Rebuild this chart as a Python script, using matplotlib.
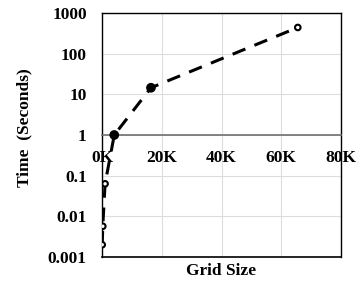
import matplotlib
matplotlib.use("Agg")
import matplotlib.pyplot as plt
from matplotlib.ticker import FixedLocator, NullLocator

# grid sizes (cells) and run time in seconds
grid_size = [64, 256, 1024, 4096, 16384, 65536]
time_sec = [0.002, 0.0057, 0.063, 1.0, 14.5, 440]
filled = [False, False, False, True, True, False]

x_ticks = [0, 20000, 40000, 60000, 80000]
x_labels = ["0K", "20K", "40K", "60K", "80K"]
y_ticks = [0.001, 0.01, 0.1, 1, 10, 100, 1000]
y_labels = ["0.001", "0.01", "0.1", "1", "10", "100", "1000"]

plt.rcParams["font.family"] = ["Liberation Serif", "DejaVu Serif"]
plt.rcParams["font.weight"] = "bold"

fig = plt.figure(figsize=(3.61, 2.82), dpi=100)
ax = fig.add_axes([0.2826, 0.0887, 0.662, 0.8653])

ax.set_yscale("log")
ax.set_xlim(0, 80000)
ax.set_ylim(0.001, 1000)

ax.grid(True, color="#dddddd", lw=0.8)
ax.set_axisbelow(True)

ax.plot(grid_size, time_sec, color="black", lw=2.2, dashes=(4.5, 3.2), zorder=3)
face = ["black" if f else "white" for f in filled]
sizes = [30 if f else 16 for f in filled]
ax.scatter(grid_size, time_sec, s=sizes, facecolors=face, edgecolors="black",
           linewidths=1.5, zorder=4)

# x axis sits on y = 1, frame closed underneath
ax.spines["bottom"].set_position(("data", 1))
ax.spines["bottom"].set_color("#707070")
ax.spines["bottom"].set_linewidth(1.2)
for s in ["left", "right", "top"]:
    ax.spines[s].set_color("black")
    ax.spines[s].set_linewidth(1.0)
ax.plot([0, 1], [0, 0], transform=ax.transAxes, color="black", lw=1.2,
        clip_on=False, zorder=5)

ax.xaxis.set_major_locator(FixedLocator(x_ticks))
ax.set_xticklabels(x_labels)
ax.yaxis.set_major_locator(FixedLocator(y_ticks))
ax.yaxis.set_minor_locator(NullLocator())
ax.set_yticklabels(y_labels)
ax.tick_params(axis="both", length=0, labelsize=12.5)
ax.tick_params(axis="x", pad=11)
ax.tick_params(axis="y", pad=11)

ax.set_ylabel("Time  (Seconds)", fontsize=12.5, fontweight="bold")
ax.yaxis.set_label_coords(-0.29, 0.53)
ax.set_xlabel("Grid Size", fontsize=12.5, fontweight="bold")
ax.xaxis.set_label_coords(0.5, -0.025)

fig.savefig("out.png", dpi=100)
